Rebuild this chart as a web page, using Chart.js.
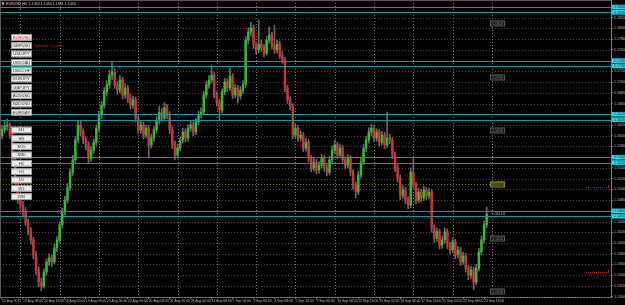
<!DOCTYPE html>
<html>
<head>
<meta charset="utf-8">
<script src="https://cdn.jsdelivr.net/npm/chart.js@4.4.0/dist/chart.umd.min.js"></script>
<style>
  html, body { margin: 0; padding: 0; background: #000; overflow: hidden; }
  canvas { display: block; }
</style>
</head>
<body>
<canvas id="chart" width="625" height="305"></canvas>
<script>
// EURUSD H4 candles (one value per bar)
const opens = [
  1.1600,1.1611,1.1618,1.1620,1.1601,1.1555,1.1517,1.1480,1.1471,1.1458,
  1.1439,1.1421,1.1406,1.1378,1.1350,1.1327,1.1320,1.1346,1.1365,1.1372,
  1.1365,1.1391,1.1406,1.1434,1.1458,1.1480,1.1503,1.1532,1.1555,1.1592,
  1.1620,1.1607,1.1592,1.1583,1.1558,1.1573,1.1588,1.1614,1.1639,1.1657,
  1.1682,1.1695,1.1713,1.1719,1.1695,1.1685,1.1704,1.1676,1.1689,1.1670,
  1.1657,1.1667,1.1633,1.1611,1.1620,1.1601,1.1614,1.1583,1.1596,1.1611,
  1.1629,1.1644,1.1633,1.1652,1.1639,1.1611,1.1583,1.1564,1.1577,1.1592,
  1.1607,1.1596,1.1614,1.1620,1.1607,1.1626,1.1639,1.1644,1.1676,1.1695,
  1.1704,1.1713,1.1676,1.1663,1.1648,1.1682,1.1700,1.1689,1.1711,1.1676,
  1.1689,1.1674,1.1685,1.1696,1.1778,1.1793,1.1801,1.1769,1.1760,1.1771,
  1.1764,1.1754,1.1778,1.1788,1.1769,1.1760,1.1771,1.1750,1.1741,1.1689,
  1.1667,1.1655,1.1601,1.1614,1.1596,1.1601,1.1577,1.1588,1.1558,1.1540,
  1.1551,1.1536,1.1545,1.1558,1.1540,1.1532,1.1555,1.1573,1.1583,1.1564,
  1.1577,1.1555,1.1545,1.1558,1.1532,1.1508,1.1495,1.1527,1.1551,1.1577,
  1.1592,1.1607,1.1614,1.1596,1.1607,1.1588,1.1601,1.1583,1.1596,1.1592,
  1.1564,1.1540,1.1521,1.1489,1.1499,1.1480,1.1471,1.1532,1.1508,1.1480,
  1.1495,1.1484,1.1499,1.1488,1.1495,1.1428,1.1409,1.1421,1.1396,1.1406,
  1.1421,1.1396,1.1387,1.1402,1.1378,1.1387,1.1365,1.1376,1.1353,1.1340,
  1.1350,1.1327,1.1353,1.1383,1.1406,1.1434
];
const highs = [
  1.1619,1.1626,1.1631,1.1624,1.1606,1.1560,1.1522,1.1491,1.1478,1.1466,
  1.1445,1.1429,1.1411,1.1384,1.1356,1.1335,1.1352,1.1371,1.1380,1.1378,
  1.1398,1.1412,1.1440,1.1465,1.1487,1.1511,1.1538,1.1563,1.1599,1.1628,
  1.1629,1.1613,1.1598,1.1589,1.1580,1.1594,1.1620,1.1646,1.1664,1.1690,
  1.1703,1.1722,1.1737,1.1725,1.1701,1.1712,1.1709,1.1697,1.1694,1.1678,
  1.1674,1.1672,1.1639,1.1627,1.1625,1.1620,1.1619,1.1603,1.1617,1.1636,
  1.1655,1.1651,1.1662,1.1658,1.1645,1.1617,1.1590,1.1584,1.1598,1.1614,
  1.1613,1.1621,1.1628,1.1626,1.1632,1.1646,1.1652,1.1683,1.1702,1.1712,
  1.1732,1.1718,1.1682,1.1668,1.1688,1.1707,1.1706,1.1726,1.1716,1.1696,
  1.1694,1.1692,1.1703,1.1785,1.1801,1.1812,1.1806,1.1775,1.1816,1.1778,
  1.1770,1.1785,1.1803,1.1793,1.1806,1.1778,1.1776,1.1757,1.1746,1.1694,
  1.1673,1.1660,1.1622,1.1619,1.1609,1.1606,1.1595,1.1593,1.1563,1.1558,
  1.1556,1.1552,1.1566,1.1563,1.1546,1.1562,1.1581,1.1592,1.1588,1.1585,
  1.1582,1.1561,1.1565,1.1563,1.1537,1.1514,1.1534,1.1558,1.1584,1.1599,
  1.1615,1.1622,1.1619,1.1613,1.1612,1.1608,1.1607,1.1644,1.1603,1.1597,
  1.1569,1.1546,1.1526,1.1507,1.1504,1.1486,1.1540,1.1560,1.1513,1.1502,
  1.1500,1.1506,1.1504,1.1502,1.1500,1.1434,1.1428,1.1426,1.1413,1.1428,
  1.1426,1.1402,1.1409,1.1407,1.1394,1.1392,1.1383,1.1381,1.1358,1.1357,
  1.1355,1.1360,1.1390,1.1413,1.1441,1.1467
];
const lows = [
  1.1594,1.1605,1.1610,1.1595,1.1548,1.1510,1.1474,1.1463,1.1450,1.1432,
  1.1415,1.1398,1.1370,1.1342,1.1318,1.1311,1.1316,1.1340,1.1358,1.1356,
  1.1361,1.1384,1.1401,1.1428,1.1452,1.1474,1.1498,1.1526,1.1550,1.1586,
  1.1600,1.1585,1.1574,1.1549,1.1552,1.1567,1.1582,1.1608,1.1632,1.1651,
  1.1675,1.1688,1.1705,1.1688,1.1677,1.1680,1.1668,1.1670,1.1662,1.1650,
  1.1651,1.1626,1.1604,1.1605,1.1594,1.1596,1.1560,1.1577,1.1590,1.1605,
  1.1622,1.1627,1.1628,1.1632,1.1604,1.1576,1.1555,1.1558,1.1571,1.1586,
  1.1589,1.1590,1.1608,1.1600,1.1602,1.1620,1.1633,1.1639,1.1670,1.1688,
  1.1698,1.1670,1.1655,1.1629,1.1643,1.1676,1.1682,1.1684,1.1669,1.1671,
  1.1661,1.1668,1.1679,1.1690,1.1771,1.1786,1.1762,1.1752,1.1755,1.1757,
  1.1747,1.1750,1.1772,1.1762,1.1753,1.1755,1.1744,1.1735,1.1682,1.1660,
  1.1648,1.1594,1.1596,1.1589,1.1590,1.1570,1.1571,1.1551,1.1533,1.1534,
  1.1529,1.1530,1.1540,1.1534,1.1525,1.1527,1.1549,1.1566,1.1557,1.1559,
  1.1548,1.1538,1.1540,1.1525,1.1500,1.1484,1.1490,1.1521,1.1546,1.1570,
  1.1586,1.1600,1.1589,1.1590,1.1581,1.1583,1.1576,1.1578,1.1585,1.1557,
  1.1533,1.1514,1.1481,1.1483,1.1473,1.1464,1.1466,1.1502,1.1473,1.1475,
  1.1477,1.1479,1.1481,1.1482,1.1420,1.1401,1.1403,1.1389,1.1390,1.1400,
  1.1389,1.1380,1.1382,1.1371,1.1372,1.1358,1.1360,1.1346,1.1332,1.1334,
  1.1313,1.1322,1.1348,1.1378,1.1400,1.1429
];
const closes = [
  1.1611,1.1618,1.1620,1.1601,1.1555,1.1517,1.1480,1.1471,1.1458,1.1439,
  1.1421,1.1406,1.1378,1.1350,1.1327,1.1320,1.1346,1.1365,1.1372,1.1365,
  1.1391,1.1406,1.1434,1.1458,1.1480,1.1503,1.1532,1.1555,1.1592,1.1620,
  1.1607,1.1592,1.1583,1.1558,1.1573,1.1588,1.1614,1.1639,1.1657,1.1682,
  1.1695,1.1713,1.1719,1.1695,1.1685,1.1704,1.1676,1.1689,1.1670,1.1657,
  1.1667,1.1633,1.1611,1.1620,1.1601,1.1614,1.1583,1.1596,1.1611,1.1629,
  1.1644,1.1633,1.1652,1.1639,1.1611,1.1583,1.1564,1.1577,1.1592,1.1607,
  1.1596,1.1614,1.1620,1.1607,1.1626,1.1639,1.1644,1.1676,1.1695,1.1704,
  1.1713,1.1676,1.1663,1.1648,1.1682,1.1700,1.1689,1.1711,1.1676,1.1689,
  1.1674,1.1685,1.1696,1.1778,1.1793,1.1801,1.1769,1.1760,1.1771,1.1764,
  1.1754,1.1778,1.1788,1.1769,1.1760,1.1771,1.1750,1.1741,1.1689,1.1667,
  1.1655,1.1601,1.1614,1.1596,1.1601,1.1577,1.1588,1.1558,1.1540,1.1551,
  1.1536,1.1545,1.1558,1.1540,1.1532,1.1555,1.1573,1.1583,1.1564,1.1577,
  1.1555,1.1545,1.1558,1.1532,1.1508,1.1495,1.1527,1.1551,1.1577,1.1592,
  1.1607,1.1614,1.1596,1.1607,1.1588,1.1601,1.1583,1.1596,1.1592,1.1564,
  1.1540,1.1521,1.1489,1.1499,1.1480,1.1471,1.1532,1.1508,1.1480,1.1495,
  1.1484,1.1499,1.1488,1.1495,1.1428,1.1409,1.1421,1.1396,1.1406,1.1421,
  1.1396,1.1387,1.1402,1.1378,1.1387,1.1365,1.1376,1.1353,1.1340,1.1350,
  1.1327,1.1353,1.1383,1.1406,1.1434,1.1454
];

// time axis: one label every 8 bars
const xLabels = [
  '12 Aug 2015','13 Aug 08:00','14 Aug 16:00','18 Aug 00:00','19 Aug 08:00','20 Aug 16:00',
  '24 Aug 00:00','25 Aug 08:00','26 Aug 16:00','28 Aug 00:00','31 Aug 08:00','1 Sep 16:00',
  '3 Sep 00:00','4 Sep 08:00','7 Sep 16:00','9 Sep 00:00','10 Sep 08:00','11 Sep 16:00',
  '15 Sep 00:00','16 Sep 08:00','17 Sep 16:00','21 Sep 00:00','22 Sep 08:00','23 Sep 16:00'
];
const barsPerLabel = 8;

// price axis
const yTicks = [
  1.1300,1.1320,1.1340,1.1360,1.1380,1.1400,1.1420,1.1440,1.1460,1.1480,
  1.1500,1.1520,1.1540,1.1560,1.1580,1.1600,1.1620,1.1640,1.1660,1.1680,
  1.1700,1.1720,1.1740,1.1760,1.1780,1.1800,1.1820,1.1840
];

// drawn objects
const cyanLevels = [1.1840,1.1830,1.1740,1.1730,1.1640,1.1630,1.1560,1.1550,1.1460,1.1450];
const boxLevels = [1.1810,1.1710,1.1610,1.1410,1.1310];
const oliveLevel = 1.1510;
const redLevels = [1.1504,1.1346];

const symbols = ['EURUSD','GBPUSD','USDJPY','USDCAD','USDCHF','EURJPY','GBPJPY','AUDUSD','NZDUSD','EURGBP'];
const periods = ['M1','M5','M15','M30','H1','H4','D1','W1','MN'];
const titleText = 'EURUSD,H4  1.1452 1.1456 1.1451 1.1454';
const spreadText = 'Spread: 1 points';
const distText = '<-50.13';

const UP = '#2fbf2f', DOWN = '#d03434', WICK = '#6a6a6a';
const FONT = '"Liberation Sans", Arial, sans-serif';
const font = s => s + 'px ' + FONT;

const mt4 = {
  id: 'mt4',
  beforeDraw(c) {
    const g = c.ctx;
    g.save();
    g.fillStyle = '#000';
    g.fillRect(0, 0, c.width, c.height);
    g.restore();
  },
  beforeDatasetsDraw(c) {
    const g = c.ctx, a = c.chartArea, xs = c.scales.x, ys = c.scales.y;
    g.save();
    g.lineWidth = 1;
    g.setLineDash([1, 2]);
    // horizontal grid
    g.strokeStyle = '#4a4a4a';
    yTicks.forEach(v => {
      const y = Math.round(ys.getPixelForValue(v)) + 0.5;
      g.beginPath(); g.moveTo(a.left, y); g.lineTo(a.right, y); g.stroke();
    });
    // vertical grid every 15 bars
    g.strokeStyle = '#727272';
    for (let b = 7; b <= 187; b += 15) {
      const x = Math.round(xs.getPixelForValue(b)) + 0.5;
      g.beginPath(); g.moveTo(x, a.top); g.lineTo(x, a.bottom); g.stroke();
    }
    // olive level
    g.strokeStyle = '#7c7c00';
    const yo = Math.round(ys.getPixelForValue(oliveLevel)) + 0.5;
    g.beginPath(); g.moveTo(a.left, yo); g.lineTo(a.left + 490, yo); g.stroke();
    g.restore();
  },
  afterDatasetsDraw(c) {
    const g = c.ctx, a = c.chartArea, ys = c.scales.y;
    g.save();
    g.lineWidth = 1;
    g.strokeStyle = '#0b9ba6';
    cyanLevels.forEach(v => {
      const y = Math.round(ys.getPixelForValue(v)) + 0.5;
      g.beginPath(); g.moveTo(a.left, y); g.lineTo(a.right, y); g.stroke();
    });
    g.strokeStyle = '#c81010';
    g.setLineDash([1, 1]);
    redLevels.forEach(v => {
      const y = Math.round(ys.getPixelForValue(v)) + 0.5;
      g.beginPath(); g.moveTo(a.right - 25, y); g.lineTo(a.right - 1, y); g.stroke();
      g.fillStyle = '#c81010';
      g.fillRect(a.right - 3, y - 2.5, 1, 3);
    });
    g.restore();
  },
  afterDraw(c) {
    const g = c.ctx, a = c.chartArea, ys = c.scales.y;
    g.save();
    // frame
    g.strokeStyle = '#5a5a5a';
    g.lineWidth = 1;
    g.beginPath(); g.moveTo(0, 0.5); g.lineTo(a.right, 0.5); g.stroke();
    g.beginPath(); g.moveTo(0.5, 0); g.lineTo(0.5, a.bottom); g.stroke();

    // cyan price tags on the axis
    g.textBaseline = 'middle';
    g.textAlign = 'left';
    g.font = font(3.6);
    cyanLevels.forEach(v => {
      const y = ys.getPixelForValue(v);
      g.fillStyle = '#2ad6e8';
      g.fillRect(a.right + 1, y - 2.3, 14, 4.6);
      g.fillStyle = '#06343a';
      g.fillText(v.toFixed(4), a.right + 3, y + 0.2);
    });

    // level boxes
    const bx = a.left + 490;
    boxLevels.forEach(v => {
      const y = Math.round(ys.getPixelForValue(v));
      g.fillStyle = '#141414';
      g.fillRect(bx, y - 2.5, 15, 5);
      g.strokeStyle = '#5c5c5c';
      g.strokeRect(bx + 0.5, y - 2, 14, 5);
      g.fillStyle = '#8c8c8c';
      g.fillText(v.toFixed(4), bx + 2, y + 0.5);
    });
    {
      const y = Math.round(ys.getPixelForValue(oliveLevel));
      g.fillStyle = '#5e5e12';
      g.fillRect(bx, y - 2.5, 15, 5);
      g.strokeStyle = '#8a8a14';
      g.strokeRect(bx + 0.5, y - 2, 14, 5);
      g.fillStyle = '#15150a';
      g.fillText(oliveLevel.toFixed(4), bx + 2, y + 0.5);
    }
    // distance label near last bar
    g.fillStyle = '#c8c8c8';
    g.font = font(3.8);
    g.fillText(distText, bx + 2, ys.getPixelForValue(closes[closes.length - 1]));

    // title
    g.fillStyle = '#d8d8d8';
    g.beginPath(); g.moveTo(1.5, 2.5); g.lineTo(4.5, 2.5); g.lineTo(3, 5.5); g.closePath(); g.fill();
    g.font = font(3.6);
    g.fillText(titleText, 6, 4);

    // spread
    g.fillStyle = '#c41c1c';
    g.font = font(4.2);
    g.fillText(spreadText, 34, 46);

    // buttons
    const drawButtons = (list, top, active) => {
      list.forEach((t, i) => {
        const y = top + i * 8.33;
        g.fillStyle = '#ececec';
        g.fillRect(11, y, 21, 6.6);
        g.strokeStyle = '#9a9a9a';
        g.strokeRect(11.5, y + 0.5, 20, 5.6);
        g.fillStyle = t === active ? '#e02424' : '#303030';
        g.font = font(4.2);
        g.textAlign = 'center';
        g.fillText(t, 21.5, y + 3.5);
      });
    };
    drawButtons(symbols, 34, 'EURUSD');
    drawButtons(periods, 126.7, 'H4');
    g.restore();
  }
};

const ctx = document.getElementById('chart').getContext('2d');
new Chart(ctx, {
  type: 'bar',
  data: {
    datasets: [
      {
        label: 'body',
        data: opens.map((o, i) => ({ x: i, y: [o, closes[i]] })),
        backgroundColor: opens.map((o, i) => closes[i] >= o ? UP : DOWN),
        barThickness: 1.8,
        minBarLength: 1,
        grouped: false,
        order: 0
      },
      {
        label: 'wick',
        data: lows.map((l, i) => ({ x: i, y: [l, highs[i]] })),
        backgroundColor: WICK,
        barThickness: 1,
        grouped: false,
        order: 1
      }
    ]
  },
  options: {
    responsive: false,
    animation: false,
    devicePixelRatio: 1,
    layout: { padding: 0 },
    plugins: { legend: { display: false }, tooltip: { enabled: false } },
    scales: {
      x: {
        type: 'linear',
        offset: false,
        min: -0.763,
        max: 232.44,
        grid: { offset: false, drawOnChartArea: false, drawTicks: true, tickLength: 2, color: '#808080' },
        border: { color: '#808080' },
        ticks: {
          autoSkip: false, maxRotation: 0, align: 'start', padding: 0,
          color: '#bdbdbd', font: { size: 3.4, family: FONT },
          callback: (v, i) => xLabels[i]
        },
        afterBuildTicks: s => { s.ticks = xLabels.map((_, k) => ({ value: k * barsPerLabel })); },
        afterFit: s => { s.height = 8; s.paddingLeft = 0; s.paddingRight = 0; }
      },
      y: {
        position: 'right',
        min: 1.12994,
        max: 1.18530,
        grid: { drawOnChartArea: false, drawTicks: true, tickLength: 2, color: '#808080' },
        border: { color: '#808080' },
        ticks: {
          autoSkip: false, padding: 1,
          color: '#bdbdbd', font: { size: 3.6, family: FONT },
          callback: v => v.toFixed(4)
        },
        afterBuildTicks: s => { s.ticks = yTicks.map(v => ({ value: v })); },
        afterFit: s => { s.width = 14; s.paddingTop = 0; s.paddingBottom = 0; }
      }
    }
  },
  plugins: [mt4]
});
</script>
</body>
</html>
